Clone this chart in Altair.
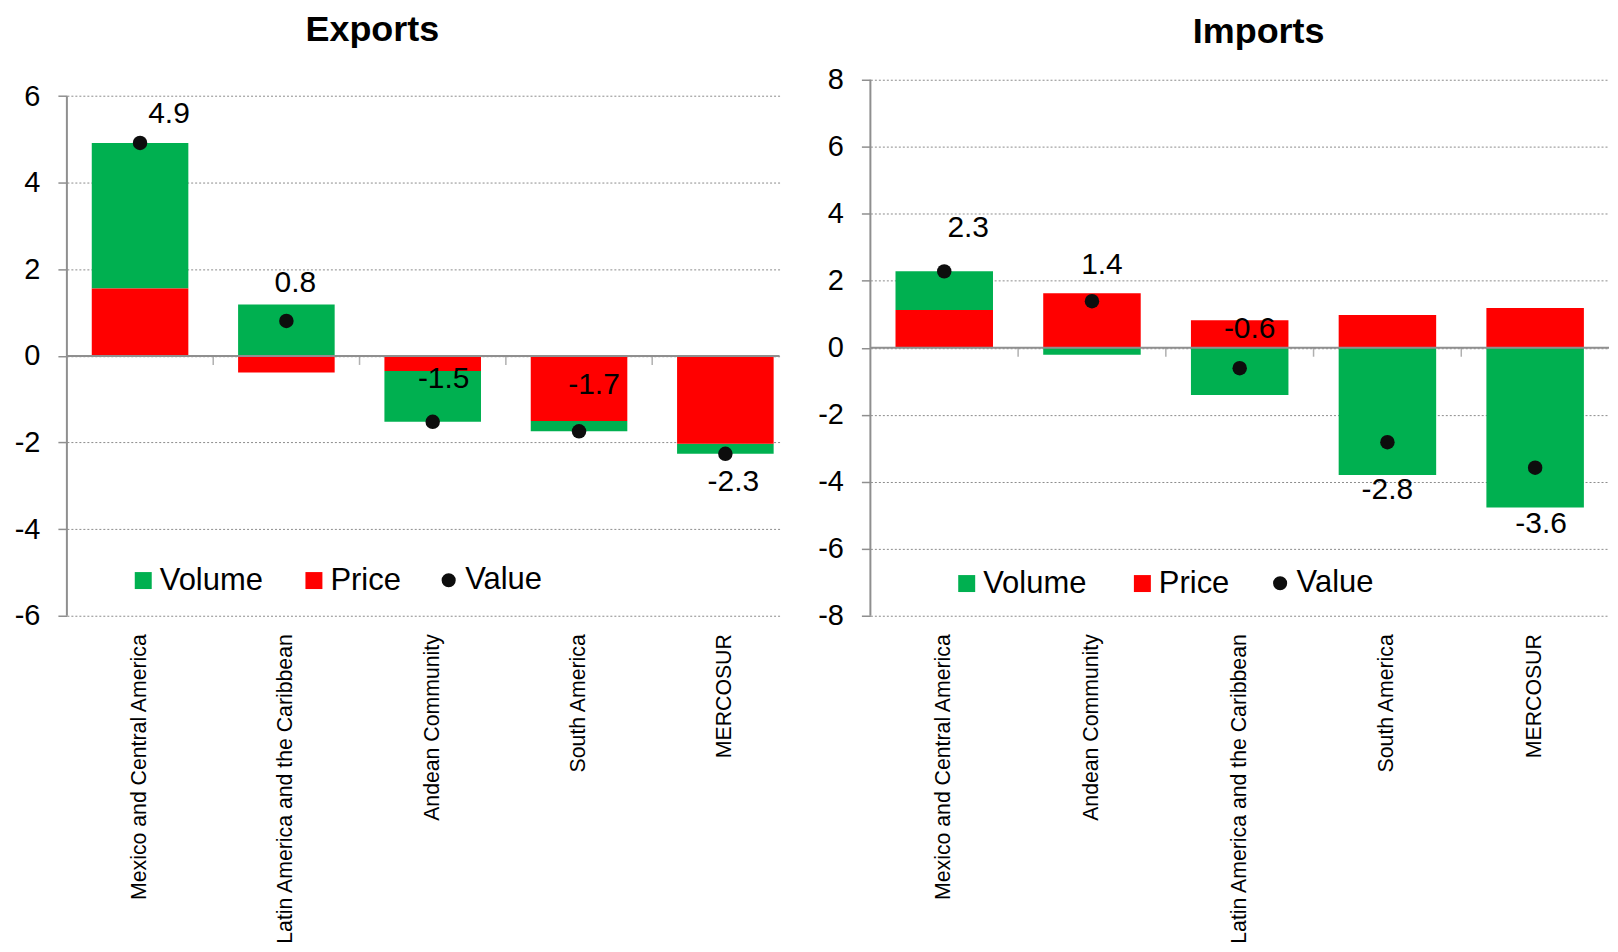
import altair as alt
import pandas as pd

# ---------------- data ----------------
exp_regions = ["Mexico and Central America", "Latin America and the Caribbean",
               "Andean Community", "South America", "MERCOSUR"]
exp_volume = [3.36, 1.19, -1.17, -0.24, -0.23]
exp_price = [1.56, -0.38, -0.35, -1.50, -2.03]
exp_value = [4.92, 0.81, -1.52, -1.74, -2.26]

imp_regions = ["Mexico and Central America", "Andean Community",
               "Latin America and the Caribbean", "South America", "MERCOSUR"]
imp_volume = [1.15, -0.21, -1.41, -3.80, -4.77]
imp_price = [1.13, 1.63, 0.82, 0.98, 1.19]
imp_value = [2.28, 1.39, -0.61, -2.82, -3.58]

bar_series = ["Volume", "Price"]
dot_series = ["Value"]
exp_ticks = [-6, -4, -2, 0, 2, 4, 6]
imp_ticks = [-8, -6, -4, -2, 0, 2, 4, 6, 8]

# ---------------- style ----------------
FONT = "Liberation Sans"
GREEN, RED, DOT = "#00B050", "#FF0000", "#0D0D0D"
AXIS_GRAY = "#8F8F8F"
PLOT_H = 537
P_INNER = 0.34


def legend(x, y, col_pad=40, **kw):
    return alt.Legend(title=None, orient="none", legendX=x, legendY=y,
                      direction="horizontal", labelFontSize=31, labelFont=FONT,
                      labelColor="black", labelOffset=1, columnPadding=col_pad,
                      symbolStrokeWidth=0, padding=0, labelLimit=300, **kw)


def panel(regions, volume, price, value, ticks, ytop, width, step, title,
          title_dx, title_offset, legend_x, legend_y, col_pad, dot_legend_x, label_offsets):
    n = len(regions)
    bars = pd.DataFrame({
        "region": regions * 2,
        "series": [bar_series[0]] * n + [bar_series[1]] * n,
        "amount": volume + price,
        "stack_order": [1] * n + [0] * n,
    })
    pts = pd.DataFrame({
        "region": regions,
        "value": value,
        "series": dot_series * n,
        "label": [f"{v:.1f}" for v in value],
    })
    # band layout: category step may be wider than width / n (last band runs past the grid)
    p_outer = (width / step - (n - P_INNER)) / 2
    spare = width - step * (n - P_INNER)
    align = min(1.0, (step * P_INNER / 2) / spare) if spare > 0 else 0.5
    xscale = alt.Scale(domain=regions, paddingInner=P_INNER, paddingOuter=p_outer, align=align)
    yscale = alt.Scale(domain=[ticks[0], ytop], nice=False, zero=False)
    xaxis = alt.Axis(title=None, labelAngle=-90, labelFontSize=21.3, labelFont=FONT,
                     labelColor="black", labelPadding=18, labelLimit=600,
                     domain=False, ticks=False, grid=False)
    yaxis = alt.Axis(values=ticks, title=None, grid=True, gridDash=[2, 2],
                     gridColor="#8C8C8C", gridWidth=1, domain=False, ticks=True,
                     tickSize=9, tickColor=AXIS_GRAY, tickWidth=1.5,
                     labelFontSize=29, labelFont=FONT, labelColor="black",
                     labelPadding=18, labelExpr="toString(datum.value)")

    bar = alt.Chart(bars).mark_bar().encode(
        x=alt.X("region:N", scale=xscale, sort=regions, axis=xaxis),
        y=alt.Y("amount:Q", stack="zero", scale=yscale, axis=yaxis),
        color=alt.Color("series:N", scale=alt.Scale(domain=bar_series, range=[GREEN, RED]),
                        legend=legend(legend_x, legend_y, col_pad,
                                      symbolType="square", symbolSize=289)),
        order=alt.Order("stack_order:Q"),
    )

    zero = alt.Chart(pts.head(1)).mark_rule(color=AXIS_GRAY, strokeWidth=2).encode(
        y=alt.datum(0, scale=yscale, axis=yaxis)
    )
    yline = alt.Chart(pts.head(1)).mark_rule(color=AXIS_GRAY, strokeWidth=2).encode(
        x=alt.value(0),
        y=alt.datum(ticks[0], scale=yscale, axis=yaxis),
        y2=alt.datum(ticks[-1]),
    )
    half_gap = step * P_INNER / 2
    seps = alt.Chart(pts.iloc[:-1]).mark_tick(
        orient="vertical", size=9, thickness=1.5, yOffset=4.5, xOffset=half_gap,
        color=AXIS_GRAY
    ).encode(
        x=alt.X("region:N", scale=xscale, bandPosition=1, axis=xaxis),
        y=alt.datum(0, scale=yscale, axis=yaxis),
    )
    dots = alt.Chart(pts).mark_point(size=210, opacity=1, filled=True, color=DOT,
                                     strokeWidth=0).encode(
        x=alt.X("region:N", scale=xscale, axis=xaxis),
        y=alt.Y("value:Q", scale=yscale, axis=yaxis),
        shape=alt.Shape("series:N", scale=alt.Scale(domain=dot_series, range=["circle"]),
                        legend=legend(dot_legend_x, legend_y, symbolSize=200,
                                      symbolFillColor=DOT)),
    )
    labels = []
    for reg, dx, dy in label_offsets:
        labels.append(
            alt.Chart(pts).transform_filter(alt.datum.region == reg).mark_text(
                dx=dx, dy=dy, fontSize=30, font=FONT, color="black", baseline="middle"
            ).encode(
                x=alt.X("region:N", scale=xscale, axis=xaxis),
                y=alt.Y("value:Q", scale=yscale, axis=yaxis),
                text="label:N",
            )
        )
    return alt.layer(bar, zero, yline, seps, dots, *labels).properties(
        width=width, height=PLOT_H,
        title=alt.TitleParams(title, fontSize=36, font=FONT, fontWeight="bold", color="black",
                              anchor="middle", frame="group", dx=title_dx, offset=title_offset),
    )


exp_offsets = [
    (exp_regions[0], 29, -29),
    (exp_regions[1], 9, -38),
    (exp_regions[2], 11, -43),
    (exp_regions[3], 15, -46),
    (exp_regions[4], 8, 28),
]
imp_offsets = [
    (imp_regions[0], 24, -43),
    (imp_regions[1], 10, -36),
    (imp_regions[2], 10, -39),
    (imp_regions[3], 0, 48),
    (imp_regions[4], 6, 56),
]

left = panel(exp_regions, exp_volume, exp_price, exp_value, exp_ticks, 6.38, 714, 146.6,
             "Exports", -51, 31, 61, 486, 35, 367, exp_offsets)
right = panel(imp_regions, imp_volume, imp_price, imp_value, imp_ticks, 8, 740, 148,
              "Imports", 19, 15, 81, 489, 40, 395, imp_offsets)

chart = alt.hconcat(left, right, spacing=37).resolve_scale(
    x="independent", y="independent", color="independent", shape="independent"
).resolve_legend(color="independent", shape="independent").properties(
    padding={"left": 6, "top": 3, "right": 0, "bottom": 1}
).configure(background="white").configure_view(stroke=None)

chart.save("out.html", embed_options={"renderer": "svg", "actions": False})
